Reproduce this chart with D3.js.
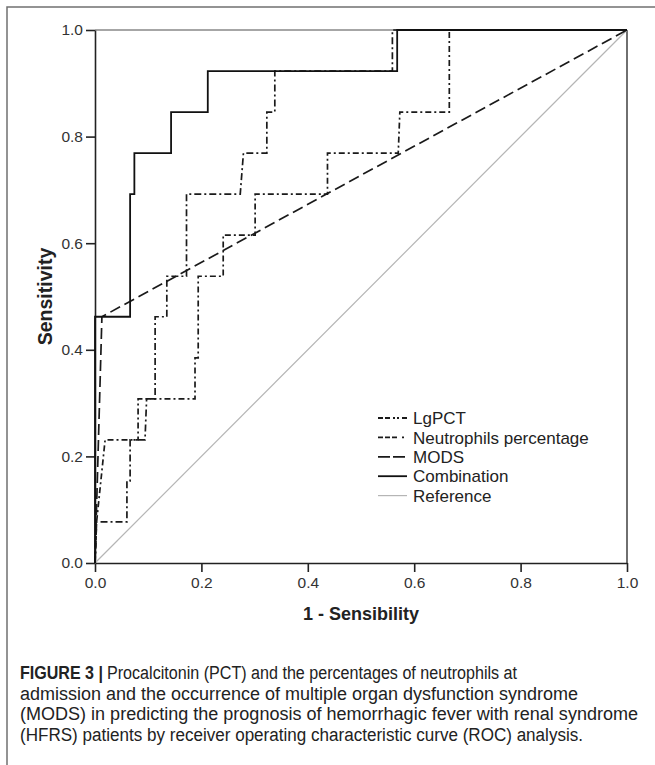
<!DOCTYPE html>
<html>
<head>
<meta charset="utf-8">
<script src="https://cdn.jsdelivr.net/npm/d3@7"></script>
<style>
  html, body { margin: 0; padding: 0; background: #fff; }
  svg { display: block; }
</style>
</head>
<body>
<div id="chart"></div>
<script>
// ---- data (FPR = 1 - specificity, TPR = sensitivity) ----
const lgpct = [[0,0],[0.003,0.077],[0.06,0.077],[0.06,0.154],[0.066,0.154],[0.066,0.231],[0.094,0.231],[0.097,0.308],[0.113,0.308],[0.113,0.462],[0.135,0.462],[0.135,0.538],[0.172,0.538],[0.172,0.692],[0.273,0.692],[0.279,0.769],[0.323,0.769],[0.323,0.846],[0.338,0.846],[0.338,0.923],[0.559,0.923],[0.559,1],[1,1]];
const neutrophils = [[0,0],[0.003,0.077],[0.019,0.231],[0.081,0.231],[0.081,0.308],[0.188,0.308],[0.188,0.385],[0.194,0.385],[0.194,0.538],[0.241,0.538],[0.241,0.615],[0.301,0.615],[0.301,0.692],[0.437,0.692],[0.437,0.769],[0.57,0.769],[0.573,0.846],[0.666,0.846],[0.666,1],[1,1]];
const mods = [[0,0],[0.013,0.462],[1,1]];
const combination = [[0,0],[0,0.462],[0.066,0.462],[0.066,0.692],[0.074,0.692],[0.074,0.769],[0.143,0.769],[0.143,0.846],[0.212,0.846],[0.212,0.923],[0.568,0.923],[0.568,1],[1,1]];
const reference = [[0,0],[1,1]];
const seriesNames = ["LgPCT","Neutrophils percentage","MODS","Combination","Reference"];
const tickValues = [0,0.2,0.4,0.6,0.8,1.0];
const xTitle = "1 - Sensibility";
const yTitle = "Sensitivity";
const captionLabel = "FIGURE 3 |";
const captionLines = [
  "Procalcitonin (PCT) and the percentages of neutrophils at",
  "admission and the occurrence of multiple organ dysfunction syndrome",
  "(MODS) in predicting the prognosis of hemorrhagic fever with renal syndrome",
  "(HFRS) patients by receiver operating characteristic curve (ROC) analysis."
];

// ---- layout ----
const W = 655, H = 765;
const m = {left: 95, right: 627, top: 30, bottom: 563};
const svg = d3.select("#chart").append("svg").attr("width", W).attr("height", H);
svg.append("rect").attr("width", W).attr("height", H).attr("fill", "#fff");

// outer frame (top + left)
svg.append("path").attr("d", `M7,${H} L7,7 L${W},7`).attr("fill","none").attr("stroke","#707070").attr("stroke-width",1.5);

const x = d3.scaleLinear().domain([0,1]).range([m.left, m.right]);
const y = d3.scaleLinear().domain([0,1]).range([m.bottom, m.top]);

// plot frame top & right
svg.append("line").attr("x1", m.left).attr("x2", m.right).attr("y1", m.top).attr("y2", m.top)
  .attr("stroke","#888").attr("stroke-width",1.4);
svg.append("line").attr("x1", m.right).attr("x2", m.right).attr("y1", m.top).attr("y2", m.bottom)
  .attr("stroke","#333").attr("stroke-width",1.4);

const fmt = d3.format(".1f");
const font = "'Liberation Sans', Arial, sans-serif";
const xAxis = svg.append("g").attr("transform", `translate(0,${m.bottom})`)
  .call(d3.axisBottom(x).tickValues(tickValues).tickFormat(fmt).tickSize(9).tickSizeOuter(0));
const yAxis = svg.append("g").attr("transform", `translate(${m.left},0)`)
  .call(d3.axisLeft(y).tickValues(tickValues).tickFormat(fmt).tickSize(9).tickSizeOuter(0));
[xAxis, yAxis].forEach(g => {
  g.select(".domain").attr("stroke","#222").attr("stroke-width",1.6);
  g.selectAll(".tick line").attr("stroke","#222").attr("stroke-width",1.6);
  g.selectAll(".tick text").attr("fill","#333").attr("font-family",font).attr("font-size",15.5);
});
xAxis.selectAll(".tick text").attr("dy", "0.71em").attr("y", 14);
yAxis.selectAll(".tick text").attr("x", -12);

// axis titles
svg.append("text").attr("x", (m.left+m.right)/2).attr("y", 620).attr("text-anchor","middle")
  .attr("font-family",font).attr("font-weight","bold").attr("font-size",18)
  .attr("fill","#222").text(xTitle);
svg.append("text").attr("transform", `translate(52,${(m.top+m.bottom)/2}) rotate(-90)`).attr("text-anchor","middle")
  .attr("font-family",font).attr("font-weight","bold").attr("font-size",19.5)
  .attr("fill","#222").text(yTitle);

// ---- curves ----
const line = d3.line().x(d => x(d[0])).y(d => y(d[1]));
const styles = [
  {data: lgpct, color:"#1a1a1a", width:1.7, dash:"7,3,2,3"},
  {data: neutrophils, color:"#1a1a1a", width:1.7, dash:"6,3,2,3"},
  {data: mods, color:"#1a1a1a", width:1.7, dash:"11,5"},
  {data: combination, color:"#111", width:1.8, dash:null},
  {data: reference, color:"#b5b5b5", width:1.2, dash:null}
];
[4,2,1,0,3].forEach(i => {
  const s = styles[i];
  svg.append("path").datum(s.data).attr("d", line).attr("fill","none")
    .attr("stroke", s.color).attr("stroke-width", s.width)
    .attr("stroke-dasharray", s.dash);
});

// ---- legend ----
const legendDash = ["5,2,5,3,2,2,2,3","5,2,5,2,5","12,3,12","",""];
const lg = svg.append("g");
seriesNames.forEach((name, i) => {
  const yy = 418 + i*19.4;
  const s = styles[i];
  lg.append("line").attr("x1", 378).attr("x2", 407).attr("y1", yy).attr("y2", yy)
    .attr("stroke", s.color).attr("stroke-width", i===4 ? 1.2 : 1.8)
    .attr("stroke-dasharray", legendDash[i] || null);
  lg.append("text").attr("x", 413).attr("y", yy).attr("dy","0.36em")
    .attr("font-family",font).attr("font-size",17)
    .attr("fill","#222").text(name);
});

// ---- caption ----
const capFont = "'Liberation Sans Narrow', 'Arial Narrow', 'Liberation Sans', Arial, sans-serif";
svg.append("text").attr("x", 20).attr("y", 679)
  .attr("font-family", capFont).attr("font-size",18).attr("font-weight","bold").attr("fill","#222")
  .attr("textLength", 83).attr("lengthAdjust","spacingAndGlyphs").text(captionLabel);
const capStarts = [107, 20, 20, 20];
const capEnds = [517, 578, 638, 583];
captionLines.forEach((ln, i) => {
  svg.append("text").attr("x", capStarts[i]).attr("y", 679 + i*20.5)
    .attr("font-family", capFont).attr("font-size",18).attr("fill","#222")
    .attr("textLength", capEnds[i]-capStarts[i]).attr("lengthAdjust","spacingAndGlyphs")
    .text(ln);
});
</script>
</body>
</html>
